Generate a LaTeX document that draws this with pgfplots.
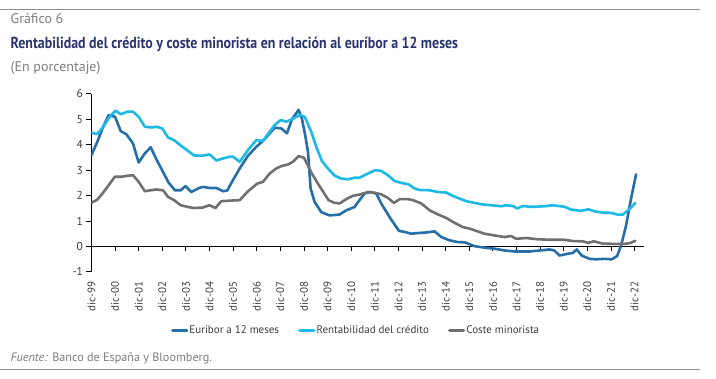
\documentclass[border=0pt]{standalone}
\usepackage{pgfplots}
\pgfplotsset{compat=1.18}
\usepackage{fontspec}
\setmainfont{PT Sans}
\newfontfamily\titlefont[FakeStretch=0.87]{PT Sans}
\definecolor{eur}{RGB}{38,110,168}
\definecolor{ren}{RGB}{30,185,228}
\definecolor{cos}{RGB}{112,112,114}
\definecolor{tit}{RGB}{42,52,112}
\definecolor{txt}{RGB}{125,125,125}
\definecolor{tick}{RGB}{60,60,60}

\pgfplotstableread{
x y
0 3.59
0.25 4.12
0.5 4.71
0.73 5.17
1.0 5.1
1.24 4.54
1.48 4.41
1.76 4.05
2.0 3.30
2.26 3.66
2.51 3.90
2.75 3.43
3.03 2.93
3.27 2.51
3.53 2.21
3.78 2.21
3.98 2.37
4.23 2.14
4.56 2.30
4.72 2.34
5.0 2.30
5.29 2.30
5.57 2.17
5.75 2.20
5.95 2.54
6.28 3.07
6.63 3.57
6.98 3.92
7.26 4.15
7.55 4.45
7.76 4.67
8.04 4.64
8.28 4.45
8.49 5.0
8.77 5.37
8.91 5.04
9.05 4.38
9.17 3.72
9.28 2.28
9.45 1.75
9.73 1.35
10.08 1.22
10.5 1.25
10.79 1.42
11.14 1.55
11.35 1.82
11.57 2.08
11.78 2.14
12.06 2.08
12.27 1.69
12.62 1.16
13.02 0.61
13.26 0.57
13.54 0.50
13.89 0.53
14.1 0.54
14.53 0.59
14.81 0.37
15.16 0.24
15.51 0.17
15.8 0.16
16.22 0.01
16.64 -0.05
17.07 -0.09
17.49 -0.16
17.91 -0.20
18.55 -0.20
18.9 -0.17
19.4 -0.12
19.6 -0.16
19.82 -0.36
20.17 -0.29
20.38 -0.26
20.55 -0.12
20.76 -0.36
21.09 -0.49
21.37 -0.51
21.73 -0.49
22.03 -0.51
22.26 -0.38
22.43 0.04
22.64 0.83
22.85 1.88
23.06 2.83
}\euribor

\pgfplotstableread{
x y
0 4.47
0.25 4.42
0.5 4.71
0.8 5.14
1.02 5.34
1.24 5.20
1.52 5.30
1.76 5.30
2.0 5.10
2.26 4.71
2.54 4.68
2.75 4.71
3.0 4.64
3.24 4.29
3.5 4.18
3.81 3.95
4.09 3.76
4.34 3.58
4.72 3.57
5.0 3.62
5.29 3.38
5.57 3.46
5.85 3.53
6.0 3.53
6.28 3.33
6.63 3.79
6.98 4.18
7.26 4.15
7.5 4.45
7.76 4.78
8.01 4.97
8.25 4.91
8.49 5.0
8.82 5.17
9.03 5.1
9.31 4.51
9.52 3.92
9.76 3.36
10.01 3.07
10.3 2.78
10.58 2.67
10.86 2.64
11.14 2.70
11.35 2.70
11.71 2.87
12.02 3.0
12.27 2.97
12.55 2.80
12.84 2.57
13.12 2.50
13.43 2.44
13.68 2.28
13.89 2.22
14.32 2.21
14.67 2.14
15.02 2.12
15.3 1.99
15.59 1.88
15.87 1.78
16.22 1.71
16.57 1.65
16.93 1.62
17.35 1.58
17.56 1.62
17.84 1.59
18.03 1.49
18.27 1.59
18.55 1.56
18.76 1.56
19.18 1.58
19.53 1.62
20.03 1.56
20.31 1.45
20.74 1.40
21.04 1.46
21.3 1.38
21.65 1.33
22.0 1.32
22.29 1.25
22.5 1.25
22.78 1.46
23.03 1.71
}\rentab

\pgfplotstableread{
x y
0 1.72
0.25 1.84
0.5 2.12
0.73 2.41
0.99 2.74
1.27 2.74
1.52 2.78
1.76 2.80
2.0 2.54
2.26 2.17
2.51 2.21
2.75 2.24
3.03 2.21
3.24 1.95
3.5 1.82
3.78 1.62
4.09 1.55
4.34 1.51
4.72 1.53
5.0 1.62
5.25 1.51
5.5 1.78
5.85 1.80
6.28 1.82
6.63 2.17
7.02 2.47
7.26 2.54
7.55 2.87
7.83 3.07
8.07 3.17
8.32 3.22
8.53 3.33
8.77 3.55
9.0 3.49
9.31 2.91
9.59 2.47
9.8 2.17
10.04 1.82
10.27 1.72
10.51 1.69
10.79 1.86
11.07 1.99
11.35 2.04
11.71 2.14
11.99 2.11
12.27 2.05
12.55 1.91
12.81 1.71
13.05 1.86
13.4 1.86
13.61 1.82
13.97 1.69
14.32 1.42
14.67 1.26
15.02 1.12
15.37 0.93
15.73 0.76
16.01 0.70
16.36 0.59
16.64 0.50
17.07 0.43
17.49 0.37
17.77 0.41
17.98 0.30
18.41 0.33
18.9 0.28
19.47 0.26
20.03 0.26
20.38 0.21
20.8 0.20
21.04 0.14
21.27 0.20
21.65 0.11
22.07 0.10
22.56 0.10
22.81 0.13
23.03 0.22
}\coste

\begin{document}
\begin{tikzpicture}
\path (0pt,0pt) rectangle (716pt,379pt);
\draw[black!45, line width=1pt] (0pt,369pt) -- (700pt,369pt);
\draw[black!45, line width=0.8pt] (0pt,9pt) -- (700pt,9pt);
\node[anchor=base west, inner sep=0pt, text=txt, font=\fontsize{14}{16}\selectfont] at (10pt,355pt) {Gráfico 6};
\node[anchor=base west, inner sep=0pt, text=tit, font=\titlefont\bfseries\fontsize{16}{18}\selectfont] at (10pt,330pt) {Rentabilidad del crédito y coste minorista en relación al euríbor a 12 meses};
\node[anchor=base west, inner sep=0pt, text=txt, font=\fontsize{14}{16}\selectfont] at (10pt,307pt) {(En porcentaje)};
\node[anchor=base west, inner sep=0pt, text=txt, font=\fontsize{12.2}{14}\selectfont] at (10pt,17pt) {\textit{Fuente:} Banco de España y Bloomberg.};

% x axis line at y=0 with ticks
\begin{axis}[at={(91pt,107pt)}, anchor=south west, scale only axis,
  width=553pt, height=178pt, xmin=0, xmax=23.4, ymin=-1, ymax=6,
  axis x line*=middle, axis y line=none,
  x axis line style={line width=0.9pt, black},
  xtick={0,...,23}, xticklabels={}, ytick=\empty,
  tick align=outside, major tick length=5pt,
  every tick/.style={black, line width=0.9pt}]
\end{axis}

\begin{axis}[at={(91pt,107pt)}, anchor=south west, scale only axis,
  width=553pt, height=178pt, xmin=0, xmax=23.4, ymin=-1, ymax=6,
  axis y line*=left, axis x line*=bottom,
  x axis line style={draw=none},
  y axis line style={line width=0.9pt, black},
  xtick={0,...,23},
  xticklabels={dic-99,dic-00,dic-01,dic-02,dic-03,dic-04,dic-05,dic-06,dic-07,dic-08,dic-09,dic-10,dic-11,dic-12,dic-13,dic-14,dic-15,dic-16,dic-17,dic-18,dic-19,dic-20,dic-21,dic-22},
  ytick={-1,0,...,6},
  major x tick style={draw=none},
  major y tick style={black, line width=0.9pt},
  tick align=outside, major tick length=5pt,
  xticklabel style={rotate=90, anchor=east, text=tick, font=\fontsize{11}{12}\selectfont, inner sep=1pt, xshift=-4pt},
  yticklabel style={text=tick, font=\fontsize{11.5}{12}\selectfont},
  /pgf/number format/assume math mode=true,
  legend columns=3,
  legend style={at={(0.478,-0.331)}, anchor=center, draw=none, fill=none,
    font=\fontsize{11}{12}\selectfont, text=tick,
    nodes={inner xsep=1pt},
    /tikz/every even column/.append style={column sep=18pt}},
  legend image code/.code={\draw[#1, line width=3.5pt] (0pt,0pt) -- (14pt,0pt);},
  every axis plot/.append style={line width=2.6pt, line join=round, line cap=round}]
\addplot[eur] table[x=x,y=y] {\euribor};
\addlegendentry{Euribor a 12 meses}
\addplot[ren] table[x=x,y=y] {\rentab};
\addlegendentry{Rentabilidad del crédito}
\addplot[cos] table[x=x,y=y] {\coste};
\addlegendentry{Coste minorista}
\end{axis}
\end{tikzpicture}
\end{document}
